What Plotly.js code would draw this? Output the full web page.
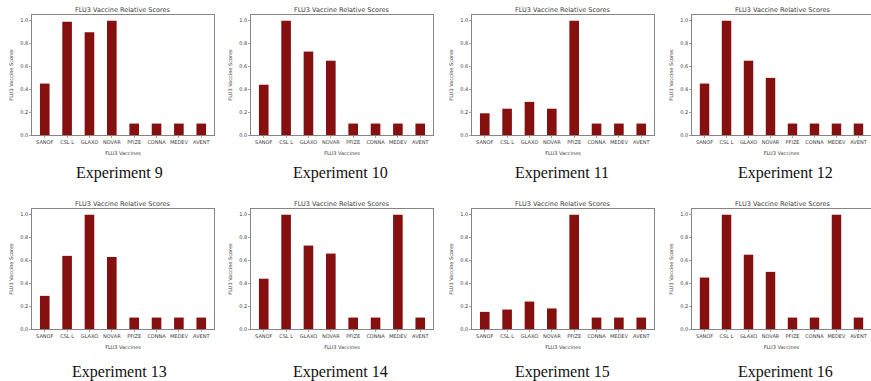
<!DOCTYPE html>
<html>
<head>
<meta charset="utf-8">
<script src="https://cdn.plot.ly/plotly-3.0.1.min.js"></script>
<style>
html,body{margin:0;padding:0;background:#fff;}
#chart{width:871px;height:381px;}
</style>
</head>
<body>
<div id="chart"></div>
<script>
const categories = ['SANOF','CSL L','GLAXO','NOVAR','PFIZE','CONNA','MEDEV','AVENT'];
const exp9  = [0.45, 0.99, 0.90, 1.00, 0.10, 0.10, 0.10, 0.10];
const exp10 = [0.44, 1.00, 0.73, 0.65, 0.10, 0.10, 0.10, 0.10];
const exp11 = [0.19, 0.23, 0.29, 0.23, 1.00, 0.10, 0.10, 0.10];
const exp12 = [0.45, 1.00, 0.65, 0.50, 0.10, 0.10, 0.10, 0.10];
const exp13 = [0.29, 0.64, 1.00, 0.63, 0.10, 0.10, 0.10, 0.10];
const exp14 = [0.44, 1.00, 0.73, 0.66, 0.10, 0.10, 1.00, 0.10];
const exp15 = [0.15, 0.17, 0.24, 0.18, 1.00, 0.10, 0.10, 0.10];
const exp16 = [0.45, 1.00, 0.65, 0.50, 0.10, 0.10, 1.00, 0.10];
const experimentLabels = ['Experiment 9','Experiment 10','Experiment 11','Experiment 12',
                          'Experiment 13','Experiment 14','Experiment 15','Experiment 16'];
const subplotTitle = 'FLU3 Vaccine Relative Scores';
const xTitle = 'FLU3 Vaccines';
const yTitle = 'FLU3 Vaccine Scores';
const yTicks = [0, 0.2, 0.4, 0.6, 0.8, 1.0];

const series = [exp9, exp10, exp11, exp12, exp13, exp14, exp15, exp16];

const W = 871, H = 381;
const lefts = [32, 251, 472, 692];
const pw = 182;
const tops = [15, 209];
const ph = 120;
const captionX = [119, 340, 562, 785];
const captionY = [173, 372];

const barColor = '#861010';
const textColor = '#3a3a3a';

const data = [];
const layout = {
  width: W, height: H,
  margin: {l: 0, r: 0, t: 0, b: 0},
  paper_bgcolor: '#fff',
  plot_bgcolor: '#fff',
  showlegend: false,
  annotations: [],
  font: {family: 'DejaVu Sans', color: textColor}
};

series.forEach((vals, i) => {
  const row = Math.floor(i / 4), col = i % 4;
  const n = i + 1;
  const xa = n === 1 ? 'x' : 'x' + n;
  const ya = n === 1 ? 'y' : 'y' + n;
  data.push({
    type: 'bar', x: categories, y: vals, xaxis: xa, yaxis: ya,
    width: 0.43, marker: {color: barColor, line: {width: 0}},
    hoverinfo: 'x+y'
  });
  const x0 = lefts[col] / W, x1 = (lefts[col] + pw) / W;
  const y1 = 1 - tops[row] / H, y0 = 1 - (tops[row] + ph) / H;
  const axBase = {
    showline: true, linecolor: '#666', linewidth: 0.8, mirror: true,
    showgrid: false, zeroline: false,
    ticks: 'outside', ticklen: 2, tickwidth: 0.6, tickcolor: '#666',
    tickfont: {size: 5, color: textColor, family: 'DejaVu Sans'}
  };
  layout['xaxis' + (n === 1 ? '' : n)] = Object.assign({}, axBase, {
    domain: [x0, x1], anchor: ya, type: 'category',
    range: [-0.57, 7.57],
    title: {text: xTitle, font: {size: 5, color: textColor}, standoff: 7}
  });
  layout['yaxis' + (n === 1 ? '' : n)] = Object.assign({}, axBase, {
    domain: [y0, y1], anchor: xa, range: [0, 1.05],
    tickvals: yTicks, tickformat: '.1f',
    title: {text: yTitle, font: {size: 5, color: textColor}, standoff: 6}
  });
  layout.annotations.push({
    text: subplotTitle, xref: 'paper', yref: 'paper',
    x: (lefts[col] + pw / 2) / W, y: 1 - (tops[row] - 5) / H,
    xanchor: 'center', yanchor: 'middle', showarrow: false,
    font: {size: 6.5, color: textColor, family: 'DejaVu Sans'}
  });
  layout.annotations.push({
    text: experimentLabels[i], xref: 'paper', yref: 'paper',
    x: captionX[col] / W, y: 1 - captionY[row] / H,
    xanchor: 'center', yanchor: 'middle', showarrow: false,
    font: {size: 16, color: '#111', family: 'Liberation Serif'}
  });
});

Plotly.newPlot('chart', data, layout, {displayModeBar: false, staticPlot: true});
</script>
</body>
</html>
